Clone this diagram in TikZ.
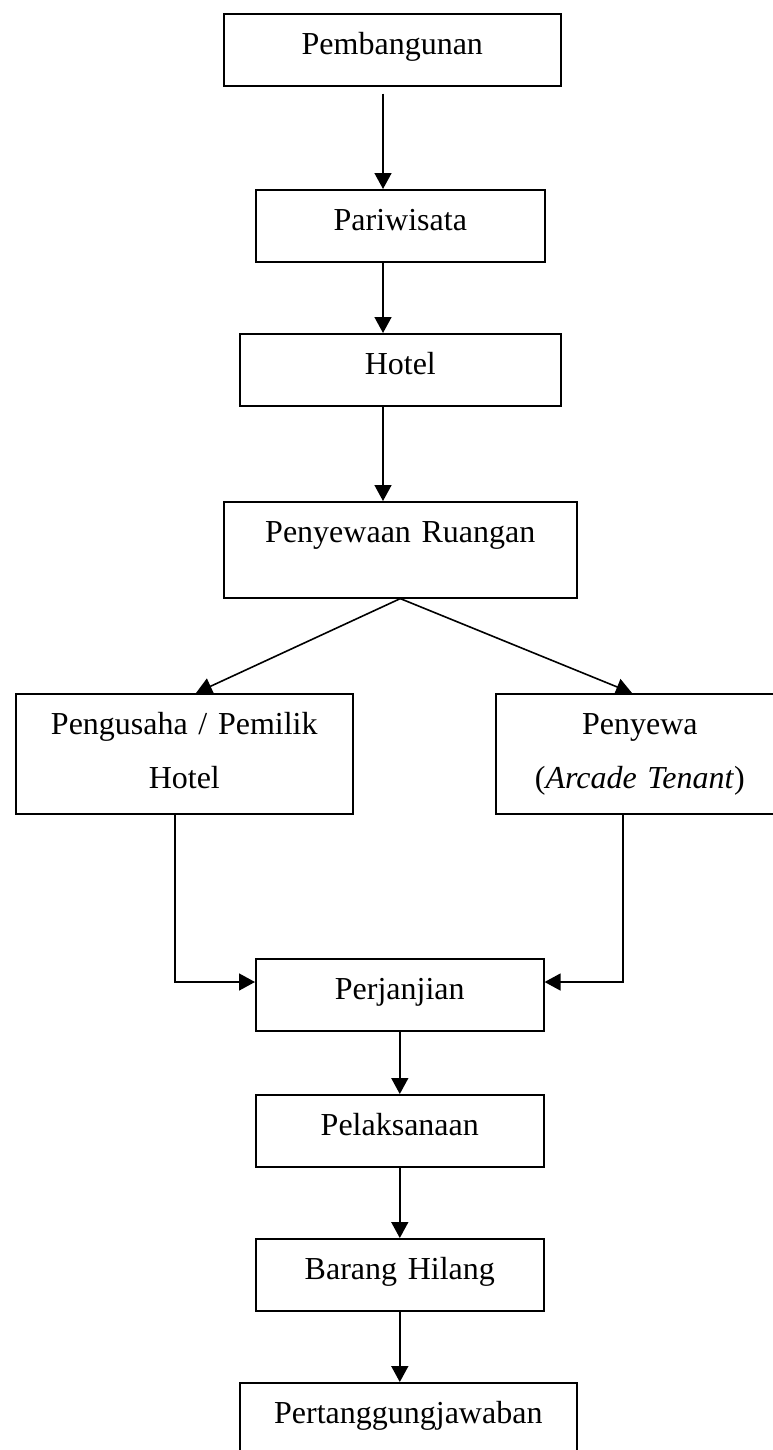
\documentclass[tikz,border=0pt]{standalone}
\usepackage{fontspec}
\setmainfont{Liberation Serif}
\usetikzlibrary{arrows.meta}
\tikzset{
	kotak/.style={draw,line width=0.8pt,anchor=north west,inner xsep=0pt,inner ysep=0pt,
		align=center,text height=20.5pt,text depth=15.5pt,font=\fontsize{16}{27}\selectfont},
	tinggi/.style={text depth=27.5pt},
	dobel/.style={text depth=39.5pt}
}
\begin{document}
\begin{tikzpicture}[>={Triangle[length=8pt,width=8.5pt]},x=0.5pt,y=-0.5pt,line width=0.8pt]
			\useasboundingbox (0,0) rectangle (772,1450);
			\node[kotak,text width=168.5pt] (bangun) at (223,13) {Pembangunan};
			\node[kotak,text width=144.5pt] (wisata) at (255,189) {Pariwisata};
			\node[kotak,text width=160.5pt] (hotel) at (239,333) {Hotel};
			\node[kotak,tinggi,text width=176.5pt] (sewa) at (223,501) {Penyewaan Ruangan};
			\node[kotak,dobel,text width=168.5pt] (usaha) at (15,693) {Pengusaha / Pemilik\\Hotel};
			\node[kotak,dobel,text width=144pt] (penyewa) at (495,693) {Penyewa\\(\textit{Arcade Tenant})};
			\node[kotak,text width=144pt] (janji) at (255,958) {Perjanjian};
			\node[kotak,text width=144pt] (laksana) at (255,1094) {Pelaksanaan};
			\node[kotak,text width=144pt] (hilang) at (255,1238) {Barang Hilang};
			\node[kotak,text width=168.5pt] (tanggung) at (239,1382) {Pertanggungjawaban};
			\coordinate (tengah) at (383,0);
			\coordinate (kiri) at (196,0);
			\coordinate (kanan) at (632,0);
			\coordinate (belokkiri) at (175,982);
			\coordinate (belokkanan) at (623,982);
			\draw[->,shorten <=3.5pt] (bangun.south -| tengah) -- (wisata.north -| tengah);
			\draw[->] (wisata.south -| tengah) -- (hotel.north -| tengah);
			\draw[->] (hotel.south -| tengah) -- (sewa.north -| tengah);
			\draw[->] (sewa.south) -- (usaha.north -| kiri);
			\draw[->] (sewa.south) -- (penyewa.north -| kanan);
			\draw[->] (usaha.south -| belokkiri) |- (janji.west |- belokkiri);
			\draw[->] (penyewa.south -| belokkanan) |- (janji.east |- belokkanan);
			\foreach \a/\b in {janji/laksana,laksana/hilang,hilang/tanggung}{\draw[->] (\a.south) -- (\b.north -| \a.south);}
		\end{tikzpicture}
\end{document}
